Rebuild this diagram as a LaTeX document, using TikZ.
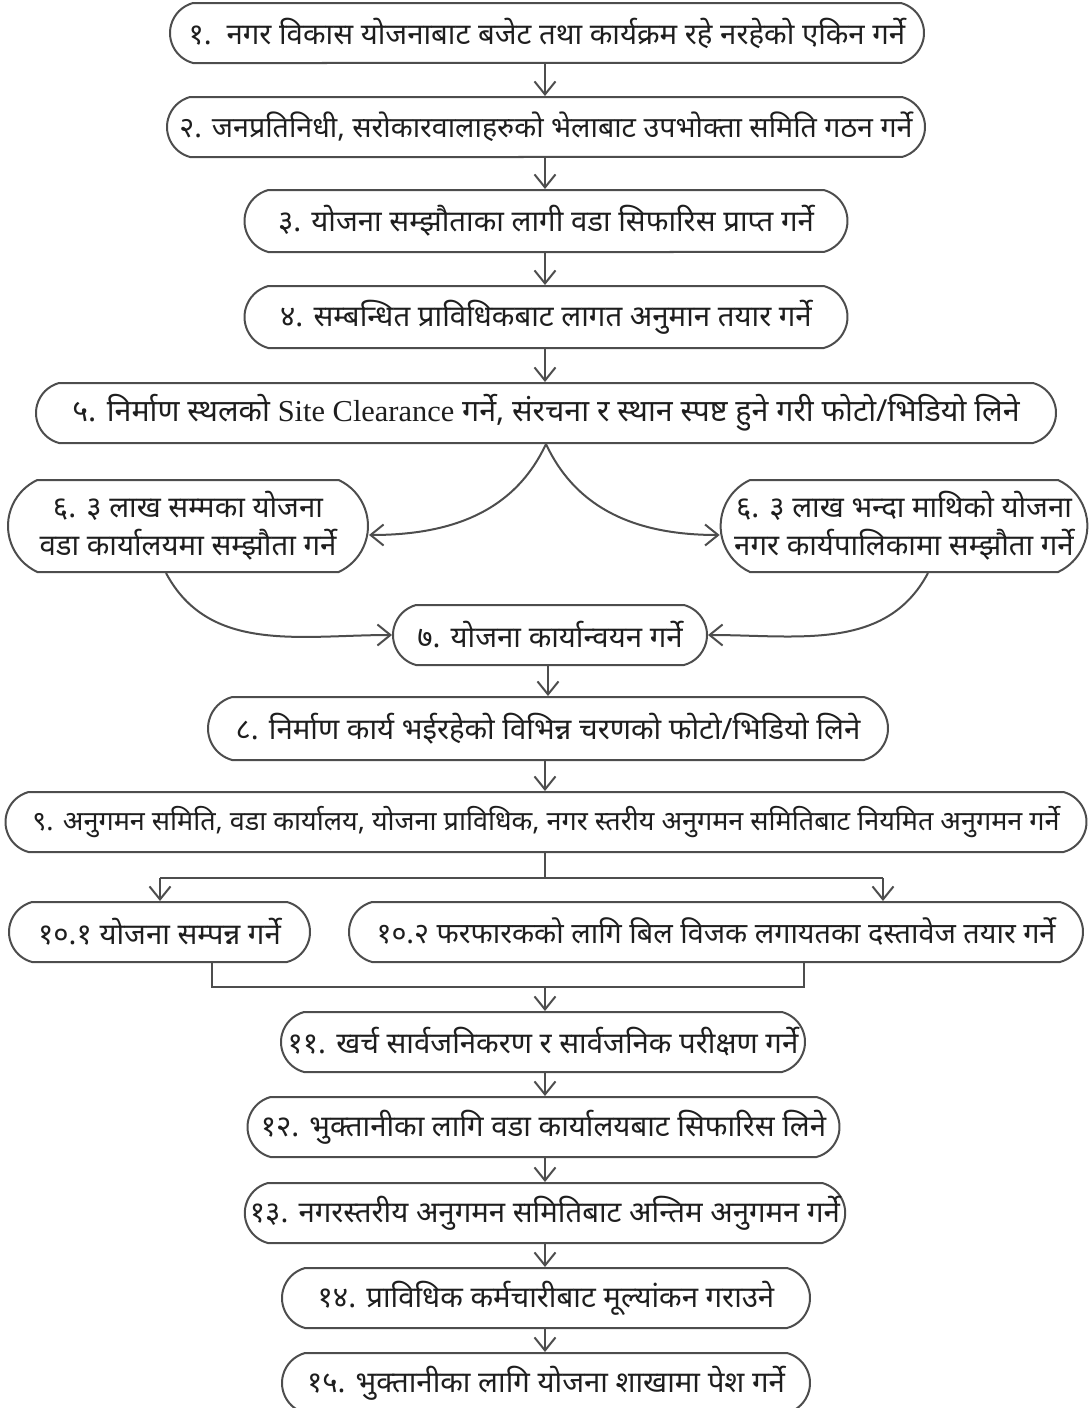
\documentclass[tikz,border=0pt]{standalone}
\usepackage{fontspec}
\setmainfont{Noto Sans}[Script=Devanagari]
\newfontfamily\latinfont{Liberation Serif}
\usetikzlibrary{shapes.misc,arrows.meta}
\definecolor{linegray}{HTML}{4D4D4D}
\definecolor{inkgray}{HTML}{1E1E1E}

\begin{document}
\begin{tikzpicture}[x=0.5pt,y=0.5pt,
			every node/.style = {font=\fontsize{14.7}{19}\selectfont, text=inkgray},
			stepbox/.style = {rounded rectangle, rounded rectangle arc length=150,
				draw=linegray, line width=1pt, inner sep=0pt, align=center},
			%smaller text for the long rows
			tighttext/.style = {font=\fontsize{13.5}{19}\selectfont},
			arr/.style = {draw=linegray, line width=1pt, -{Straight Barb[length=6.5pt,width=10.5pt]}},
			link/.style = {draw=linegray, line width=1pt}]
			
			\useasboundingbox (0,0) rectangle (1090,-1408);
			
			% main column
			\node[stepbox, minimum width=377pt, minimum height=30pt] (n1) at (547,-33) {१.\enspace नगर विकास योजनाबाट बजेट तथा कार्यक्रम रहे नरहेको एकिन गर्ने};
			\node[stepbox, font=\fontsize{14.3}{19}\selectfont, minimum width=379pt, minimum height=30pt] (n2) at (546,-127) {२. जनप्रतिनिधी, सरोकारवालाहरुको भेलाबाट उपभोक्ता समिति गठन गर्ने};
			\node[stepbox, minimum width=301.5pt, minimum height=31pt] (n3) at (546,-221) {३. योजना सम्झौताका लागी वडा सिफारिस प्राप्त गर्ने};
			\node[stepbox, minimum width=301.5pt, minimum height=31pt] (n4) at (546,-317) {४. सम्बन्धित प्राविधिकबाट लागत अनुमान तयार गर्ने};
			\node[stepbox, font=\fontsize{15.2}{19}\selectfont, minimum width=510pt, minimum height=30pt] (n5) at (546,-413) {५. निर्माण स्थलको {\latinfont Site Clearance} गर्ने, संरचना र स्थान स्पष्ट हुने गरी फोटो/भिडियो लिने};
			
			% two ways
			\node[stepbox, rounded rectangle arc length=130, minimum width=180pt, minimum height=46pt] (n6a) at (188,-526) {६. ३ लाख सम्मका योजना\\वडा कार्यालयमा सम्झौता गर्ने};
			\node[stepbox, rounded rectangle arc length=130, minimum width=181pt, minimum height=46pt] (n6b) at (904,-526) {६. ३ लाख भन्दा माथिको योजना\\नगर कार्यपालिकामा सम्झौता गर्ने};
			
			\node[stepbox, minimum width=157pt, minimum height=30pt] (n7) at (550,-635) {७. योजना कार्यान्वयन गर्ने};
			\node[stepbox, minimum width=340pt, minimum height=31.5pt] (n8) at (548,-728.5) {८. निर्माण कार्य भईरहेको विभिन्न चरणको फोटो/भिडियो लिने};
			\node[stepbox, tighttext, minimum width=540.5pt, minimum height=30pt] (n9) at (546,-822) {९. अनुगमन समिति, वडा कार्यालय, योजना प्राविधिक, नगर स्तरीय अनुगमन समितिबाट नियमित अनुगमन गर्ने};
			
			\node[stepbox, minimum width=150.5pt, minimum height=30pt] (n101) at (159.5,-932) {१०.१ योजना सम्पन्न गर्ने};
			\node[stepbox, font=\fontsize{14.4}{19}\selectfont, minimum width=367pt, minimum height=30pt] (n102) at (716,-932) {१०.२ फरफारकको लागि बिल विजक लगायतका दस्तावेज तयार गर्ने};
			
			\node[stepbox, minimum width=262pt, minimum height=30pt] (n11) at (543,-1042) {११. खर्च सार्वजनिकरण र सार्वजनिक परीक्षण गर्ने};
			\node[stepbox, minimum width=296pt, minimum height=30pt] (n12) at (543.5,-1127) {१२. भुक्तानीका लागि वडा कार्यालयबाट सिफारिस लिने};
			\node[stepbox, minimum width=297pt, minimum height=30pt] (n13) at (545,-1213) {१३. नगरस्तरीय अनुगमन समितिबाट अन्तिम अनुगमन गर्ने};
			\node[stepbox, minimum width=264pt, minimum height=30pt] (n14) at (546,-1298) {१४. प्राविधिक कर्मचारीबाट मूल्यांकन गराउने};
			\node[stepbox, minimum width=264pt, minimum height=30pt] (n15) at (546,-1383) {१५. भुक्तानीका लागि योजना शाखामा पेश गर्ने};
			
			\coordinate (fork) at (545,-878);
			\coordinate (forkL) at (160,-878);
			\coordinate (forkR) at (883,-878);
			\coordinate (join) at (545,-987);
			\coordinate (joinL) at (212,-987);
			\coordinate (joinR) at (804,-987);
			
			\draw[arr] (n1.south -| fork) -- (n2.north -| fork);
			\draw[arr] (n2.south -| fork) -- (n3.north -| fork);
			\draw[arr] (n3.south -| fork) -- (n4.north -| fork);
			\draw[arr] (n4.south -| fork) -- (n5.north -| fork);
			\draw[arr] (n5.south) to[out=-115,in=0] ([yshift=-4.5pt]n6a.east);
			\draw[arr] (n5.south) to[out=-65,in=180] ([yshift=-4.5pt]n6b.west);
			\draw[arr] ([xshift=-11pt]n6a.south) to[out=-62,in=180] (n7.west);
			\draw[arr] ([xshift=12pt]n6b.south) to[out=-118,in=0] (n7.east);
			\draw[arr] (n7.south -| n8.north) -- (n8.north);
			\draw[arr] (n8.south -| fork) -- (n9.north -| fork);
			\draw[link] (fork |- n9.south) -- (fork);
			\draw[link] (forkL) -- (forkR);
			\draw[arr] (forkL) -- (forkL |- n101.north);
			\draw[arr] (forkR) -- (forkR |- n102.north);
			\draw[link] (joinL |- n101.south) -- (joinL) -- (joinR) -- (joinR |- n102.south);
			\draw[arr] (join) -- (join |- n11.north);
			\draw[arr] (n11.south -| join) -- (n12.north -| join);
			\draw[arr] (n12.south -| join) -- (n13.north -| join);
			\draw[arr] (n13.south -| join) -- (n14.north -| join);
			\draw[arr] (n14.south -| join) -- (n15.north -| join);
\end{tikzpicture}
\end{document}
